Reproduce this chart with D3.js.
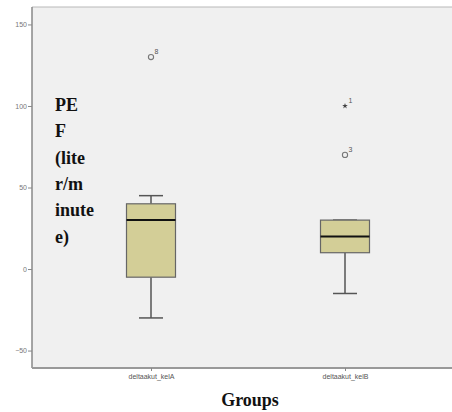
<!DOCTYPE html>
<html><head><meta charset="utf-8">
<script src="https://cdn.jsdelivr.net/npm/d3@7"></script>
<style>body{margin:0;background:#fff}svg{display:block}</style>
</head><body>
<script>
const groups = ["deltaakut_kelA", "deltaakut_kelB"];
const whiskerLow = [-30, -15];
const q1 = [-5, 10];
const medians = [30, 20];
const q3 = [40, 30];
const whiskerHigh = [45, 30];
const outlierGroup = ["deltaakut_kelA", "deltaakut_kelB", "deltaakut_kelB"];
const outlierValue = [130, 100, 70];
const outlierLabel = ["8", "1", "3"];
const outlierType = ["circle", "star", "circle"];
const yTicks = [-50, 0, 50, 100, 150];
const yTitleLines = ["PE", "F", "(lite", "r/m", "inute", "e)"];
const xTitle = "Groups";

const W = 452, H = 412;
const m = {left: 32, right: 0, top: 7, bottom: 44};
const svg = d3.select("body").append("svg").attr("width", W).attr("height", H);

const y = d3.scaleLinear().domain([-60.7, 160.7]).range([H - m.bottom, m.top]);
const xc = d3.scalePoint().domain(groups).range([151, 345]);

svg.append("rect").attr("x", m.left).attr("y", m.top).attr("width", W - m.left - m.right)
  .attr("height", H - m.bottom - m.top).attr("fill", "#f0f0f0");
svg.append("line").attr("x1", m.left).attr("x2", W).attr("y1", m.top).attr("y2", m.top)
  .attr("stroke", "#b8b8b8").attr("stroke-width", 1);

const boxW = 49, capW = 24;
const data = groups.map((g, i) => ({g, lo: whiskerLow[i], q1: q1[i], med: medians[i], q3: q3[i], hi: whiskerHigh[i]}));
const gB = svg.append("g");
data.forEach(d => {
  const cx = xc(d.g);
  const s = "#555";
  gB.append("line").attr("x1", cx).attr("x2", cx).attr("y1", y(d.lo)).attr("y2", y(d.q1)).attr("stroke", s).attr("stroke-width", 1.5);
  gB.append("line").attr("x1", cx).attr("x2", cx).attr("y1", y(d.hi)).attr("y2", y(d.q3)).attr("stroke", s).attr("stroke-width", 1.5);
  gB.append("line").attr("x1", cx - capW/2).attr("x2", cx + capW/2).attr("y1", y(d.lo)).attr("y2", y(d.lo)).attr("stroke", s).attr("stroke-width", 1.5);
  gB.append("line").attr("x1", cx - capW/2).attr("x2", cx + capW/2).attr("y1", y(d.hi)).attr("y2", y(d.hi)).attr("stroke", s).attr("stroke-width", 1.5);
  gB.append("rect").attr("x", cx - boxW/2).attr("width", boxW).attr("y", y(d.q3)).attr("height", y(d.q1) - y(d.q3))
    .attr("fill", "#d3ce97").attr("stroke", "#666").attr("stroke-width", 1.2);
  gB.append("line").attr("x1", cx - boxW/2).attr("x2", cx + boxW/2).attr("y1", y(d.med)).attr("y2", y(d.med)).attr("stroke", "#111").attr("stroke-width", 2);
});

outlierValue.forEach((v, i) => {
  const cx = xc(outlierGroup[i]), cy = y(v);
  if (outlierType[i] === "circle") {
    svg.append("circle").attr("cx", cx).attr("cy", cy).attr("r", 2.6).attr("fill", "none").attr("stroke", "#777").attr("stroke-width", 1.1);
  } else {
    svg.append("path").attr("d", d3.symbol(d3.symbolStar, 10)()).attr("transform", `translate(${cx},${cy})`).attr("fill", "#444");
  }
  svg.append("text").attr("x", cx + 3.5).attr("y", cy - 3).attr("font-family", "Liberation Sans, Arial, sans-serif")
    .attr("font-size", 7).attr("fill", "#555").text(outlierLabel[i]);
});

// Y axis
const yAxis = d3.axisLeft(y).tickValues(yTicks).tickSize(4).tickPadding(1).tickFormat(d3.format("d"));
const ya = svg.append("g").attr("transform", `translate(${m.left},0)`).call(yAxis);
ya.select(".domain").attr("stroke", "#888").attr("stroke-width", 1.5).attr("d", `M0,${m.top}V${H - m.bottom}`);
ya.selectAll(".tick line").attr("stroke", "#888");
ya.selectAll(".tick text").attr("font-size", 7).attr("fill", "#777").attr("font-family", "Liberation Sans, Arial, sans-serif");

// X axis
const xAxis = d3.axisBottom(xc).tickSize(3).tickPadding(3);
const xa = svg.append("g").attr("transform", `translate(0,${H - m.bottom})`).call(xAxis);
xa.select(".domain").attr("stroke", "#999").attr("stroke-width", 2).attr("d", `M${m.left},0H${W}`);
xa.selectAll(".tick line").attr("stroke", "#888");
xa.selectAll(".tick text").attr("font-size", 7).attr("fill", "#555").attr("font-family", "Liberation Sans, Arial, sans-serif");

// Titles
const yt = svg.append("text").attr("font-family", "Liberation Serif, Times New Roman, serif").attr("font-weight", "bold")
  .attr("font-size", 18).attr("fill", "#111");
yTitleLines.forEach((t, i) => yt.append("tspan").attr("x", 55).attr("y", 110.7 + i * 26.4).text(t));

svg.append("text").attr("x", 250).attr("y", 406).attr("text-anchor", "middle")
  .attr("font-family", "Liberation Serif, Times New Roman, serif").attr("font-weight", "bold").attr("font-size", 18)
  .attr("fill", "#111").text(xTitle);
</script>
</body></html>
